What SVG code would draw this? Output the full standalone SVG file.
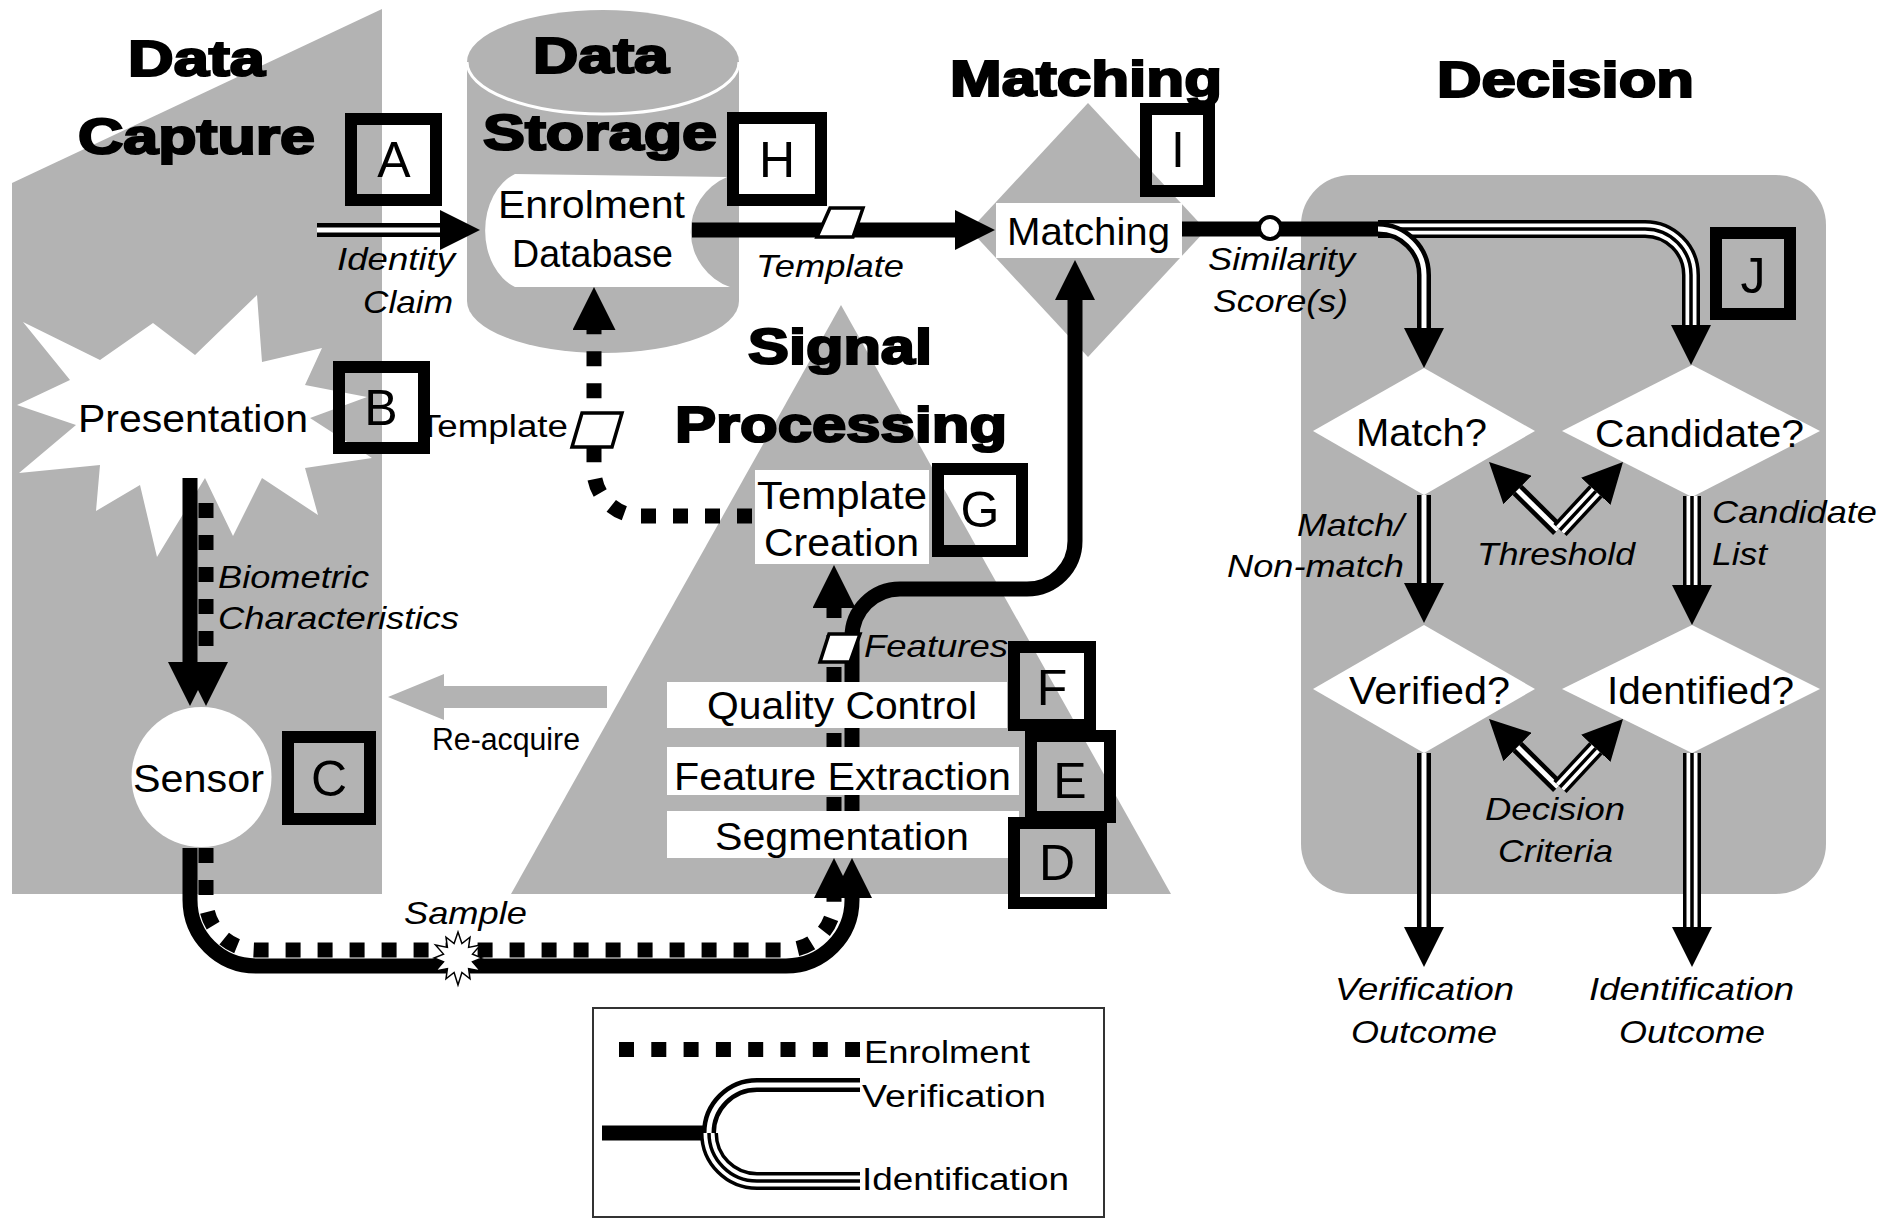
<svg xmlns="http://www.w3.org/2000/svg" width="1886" height="1218" viewBox="0 0 1886 1218">
<style>
.gr{fill:#b3b3b3}
.wh{fill:#fff}
text{font-family:"Liberation Sans",Arial,Helvetica,sans-serif;fill:#000}
.title{font-weight:bold;font-size:50px;stroke:#000;stroke-width:2.2}
.node{font-size:39px}
.lbl{font-style:italic;font-size:32px}
.sm{font-size:31px}
.let{font-size:50px;text-anchor:middle}
.box{fill:none;stroke:#000;stroke-width:12}
.thick{fill:none;stroke:#000;stroke-width:15}
.dot{fill:none;stroke:#000;stroke-width:15;stroke-dasharray:15 17}
.dblB{fill:none;stroke:#000;stroke-width:14}
.dblW{fill:none;stroke:#fff;stroke-width:5}
.triB{fill:none;stroke:#000;stroke-width:18}
.triW{fill:none;stroke:#fff;stroke-width:11}
.triC{fill:none;stroke:#000;stroke-width:3.5}
.tok{fill:#fff;stroke:#000;stroke-width:3.5}
</style>
<defs>
<marker id="ah" viewBox="0 0 40 40" markerWidth="40" markerHeight="40" refX="0" refY="20" orient="auto" markerUnits="userSpaceOnUse"><path d="M0,0 L40,20 L0,40 z"/></marker>
<marker id="ah44" viewBox="0 0 44 44" markerWidth="44" markerHeight="44" refX="0" refY="22" orient="auto" markerUnits="userSpaceOnUse"><path d="M0,0 L44,22 L0,44 z"/></marker>
<marker id="ah43" viewBox="0 0 43 43" markerWidth="43" markerHeight="43" refX="0" refY="21.5" orient="auto" markerUnits="userSpaceOnUse"><path d="M0,0 L43,21.5 L0,43 z"/></marker>
</defs>
<rect width="1886" height="1218" fill="#fff"/>

<g id="regions">
<polygon class="gr" points="12,183 382,9 382,894 12,894"/>
<path class="gr" d="M467,62 A136,52 0 0 1 739,62 V301 A136,52 0 0 1 467,301 Z"/>
<path d="M467,62 A136,52 0 0 0 739,62" fill="none" stroke="#fff" stroke-width="3"/>
<polygon class="gr" points="841,305 1171,894 511,894"/>
<polygon class="gr" points="1088,103 1206,230 1088,357 970,230"/>
<rect class="gr" x="1301" y="175" width="525" height="719" rx="50"/>
<text class="title" x="128" y="76" textLength="137" lengthAdjust="spacingAndGlyphs">Data</text>
<text class="title" x="78" y="154" textLength="237" lengthAdjust="spacingAndGlyphs">Capture</text>
<text class="title" x="533" y="73" textLength="136" lengthAdjust="spacingAndGlyphs">Data</text>
<text class="title" x="483" y="150" textLength="234" lengthAdjust="spacingAndGlyphs">Storage</text>
<text class="title" x="950" y="96" textLength="272" lengthAdjust="spacingAndGlyphs">Matching</text>
<text class="title" x="1437" y="97" textLength="257" lengthAdjust="spacingAndGlyphs">Decision</text>
<text class="title" x="748" y="364" textLength="184" lengthAdjust="spacingAndGlyphs">Signal</text>
<text class="title" x="675" y="442" textLength="332" lengthAdjust="spacingAndGlyphs">Processing</text>
</g>

<g id="node-presentation">
<polygon class="wh" points="23,322 100,360 153,323 195,355 257,295 262,362 322,348 305,385 367,397 310,418 372,458 305,468 318,515 262,478 233,536 205,478 157,557 140,485 96,511 100,465 19,473 76,425 17,405 70,380"/>
<text class="node" x="78" y="432" textLength="230" lengthAdjust="spacingAndGlyphs">Presentation</text>
</g>
<g id="node-enrolment-db">
<path class="wh" d="M515,174 L727,177 A59,59 0 0 0 730,287 L515,287 A45,60 0 0 1 515,174 Z"/>
<text class="node" x="498" y="218" textLength="187" lengthAdjust="spacingAndGlyphs">Enrolment</text>
<text class="node" x="512" y="267" textLength="161" lengthAdjust="spacingAndGlyphs">Database</text>
</g>
<g id="node-matching">
<rect class="wh" x="996" y="203" width="186" height="55"/>
<text class="node" x="1007" y="245" textLength="163" lengthAdjust="spacingAndGlyphs">Matching</text>
</g>
<g id="node-template-creation">
<rect class="wh" x="755" y="470" width="174" height="94"/>
<text class="node" x="757" y="509" textLength="170" lengthAdjust="spacingAndGlyphs">Template</text>
<text class="node" x="764" y="556" textLength="155" lengthAdjust="spacingAndGlyphs">Creation</text>
</g>
<g id="node-sensor">
<circle class="wh" cx="201.5" cy="777" r="70"/>
<text class="node" x="133" y="792" textLength="131" lengthAdjust="spacingAndGlyphs">Sensor</text>
</g>
<g id="node-match">
<polygon class="wh" points="1424,368 1535,431 1424,495 1313,431"/>
<text class="node" x="1356" y="446" textLength="131" lengthAdjust="spacingAndGlyphs">Match?</text>
</g>
<g id="node-candidate">
<polygon class="wh" points="1692,365 1820,431 1692,497 1562,431"/>
<text class="node" x="1595" y="447" textLength="209" lengthAdjust="spacingAndGlyphs">Candidate?</text>
</g>
<g id="node-verified">
<polygon class="wh" points="1424,625 1535,689 1424,753 1313,689"/>
<text class="node" x="1349" y="704" textLength="161" lengthAdjust="spacingAndGlyphs">Verified?</text>
</g>
<g id="node-identified">
<polygon class="wh" points="1692,625 1820,689 1692,753 1562,689"/>
<text class="node" x="1607" y="704" textLength="187" lengthAdjust="spacingAndGlyphs">Identified?</text>
</g>

<g id="connectors">
<path class="dblB" d="M317,230 H440" marker-end="url(#ah)"/>
<path class="dblW" d="M317,230 H440"/>
<path class="thick" d="M692,230 H955" marker-end="url(#ah)"/>
<polygon class="tok" points="830,208 863,208 853,237 817,237"/>
<path class="thick" d="M1182,229 H1392"/>
<path class="triB" d="M1378,229 H1645 A46,46 0 0 1 1691,275 V325" marker-end="url(#ah)"/>
<path class="triW" d="M1378,229 H1645 A46,46 0 0 1 1691,275 V325"/>
<path class="triC" d="M1378,229 H1645 A46,46 0 0 1 1691,275 V325"/>
<path class="dblB" d="M1378,229 A46,46 0 0 1 1424,275 V328" marker-end="url(#ah)"/>
<path class="dblW" d="M1378,229 A46,46 0 0 1 1424,275 V328"/>
<circle cx="1270" cy="228" r="11" fill="#fff" stroke="#000" stroke-width="4"/>
<path class="dblB" d="M1424,495 V583" marker-end="url(#ah)"/>
<path class="dblW" d="M1424,495 V583"/>
<path class="triB" d="M1692,496 V585" marker-end="url(#ah)"/>
<path class="triW" d="M1692,496 V585"/>
<path class="triC" d="M1692,496 V585"/>
<path class="dblB" d="M1424,753 V927" marker-end="url(#ah)"/>
<path class="dblW" d="M1424,753 V927"/>
<path class="triB" d="M1692,753 V927" marker-end="url(#ah)"/>
<path class="triW" d="M1692,753 V927"/>
<path class="triC" d="M1692,753 V927"/>
<path class="dblB" d="M1558,530 L1517.5,490" marker-end="url(#ah)"/>
<path class="dblW" d="M1558,530 L1517.5,490"/>
<path class="triB" d="M1560,530 L1595.8,491.4" marker-end="url(#ah)"/>
<path class="triW" d="M1560,530 L1595.8,491.4"/>
<path class="triC" d="M1560,530 L1595.8,491.4"/>
<path class="dblB" d="M1558,787 L1517.5,747" marker-end="url(#ah)"/>
<path class="dblW" d="M1558,787 L1517.5,747"/>
<path class="triB" d="M1560,787 L1595.8,748.4" marker-end="url(#ah)"/>
<path class="triW" d="M1560,787 L1595.8,748.4"/>
<path class="triC" d="M1560,787 L1595.8,748.4"/>
<path class="thick" d="M190,478 V662" marker-end="url(#ah44)"/>
<path class="dot" d="M206,503 V662" marker-end="url(#ah44)"/>
<path class="thick" d="M190,848 V900 A66,66 0 0 0 256,966 H786 A66,66 0 0 0 852,900 V898" marker-end="url(#ah)"/>
<path class="dot" d="M206,848 V900 A50,50 0 0 0 256,950 H786 A48,48 0 0 0 834,902 V898" marker-end="url(#ah)"/>
<polygon points="458,932 461.9,943.5 470,937.2 468.6,947.4 480.5,945 472.5,954.1 482,958 472.5,961.9 480.5,971 468.6,968.6 470,978.8 461.9,972.5 458,985 454.1,972.5 446,978.8 447.4,968.6 435.5,971 443.5,961.9 434,958 443.5,954.1 435.5,945 447.4,947.4 446,937.2 454.1,943.5" fill="#fff" stroke="#000" stroke-width="1.5"/>
<path class="thick" d="M852,858 V682"/>
<path class="dot" d="M834,858 V682" stroke-dashoffset="18"/>
<path class="thick" d="M852,682 V637 A48,48 0 0 1 900,589 H1027 A48,48 0 0 0 1075,541 V300" marker-end="url(#ah)"/>
<path class="dot" d="M834,682 V608" marker-end="url(#ah43)"/>
<polygon class="tok" points="829,634 860,634 850,662 820,662"/>
<path class="dot" d="M752,516 H640 A46,46 0 0 1 594,470 V330" marker-end="url(#ah43)"/>
<polygon class="tok" points="582,413 622,413 612,447 572,447"/>
<polygon class="gr" points="607,686 444,686 444,674 388,697 444,720 444,708 607,708"/>
<text class="lbl" x="337" y="270" textLength="118" lengthAdjust="spacingAndGlyphs">Identity</text>
<text class="lbl" x="363" y="313" textLength="90" lengthAdjust="spacingAndGlyphs">Claim</text>
<text class="lbl" x="756" y="277" textLength="148" lengthAdjust="spacingAndGlyphs">Template</text>
<text class="lbl" x="1208" y="270" textLength="147" lengthAdjust="spacingAndGlyphs">Similarity</text>
<text class="lbl" x="1213" y="312" textLength="135" lengthAdjust="spacingAndGlyphs">Score(s)</text>
<text class="lbl" x="218" y="588" textLength="151" lengthAdjust="spacingAndGlyphs">Biometric</text>
<text class="lbl" x="218" y="629" textLength="241" lengthAdjust="spacingAndGlyphs">Characteristics</text>
<text class="lbl" x="404" y="924" textLength="123" lengthAdjust="spacingAndGlyphs">Sample</text>
<text class="lbl" x="864" y="657" textLength="144" lengthAdjust="spacingAndGlyphs">Features</text>
<text class="lbl" x="1297" y="536" textLength="107" lengthAdjust="spacingAndGlyphs">Match/</text>
<text class="lbl" x="1227" y="577" textLength="177" lengthAdjust="spacingAndGlyphs">Non-match</text>
<text class="lbl" x="1477" y="565" textLength="158" lengthAdjust="spacingAndGlyphs">Threshold</text>
<text class="lbl" x="1712" y="523" textLength="165" lengthAdjust="spacingAndGlyphs">Candidate</text>
<text class="lbl" x="1712" y="565" textLength="55" lengthAdjust="spacingAndGlyphs">List</text>
<text class="lbl" x="1485" y="820" textLength="140" lengthAdjust="spacingAndGlyphs">Decision</text>
<text class="lbl" x="1498" y="862" textLength="115" lengthAdjust="spacingAndGlyphs">Criteria</text>
<text class="lbl" x="1335" y="1000" textLength="179" lengthAdjust="spacingAndGlyphs">Verification</text>
<text class="lbl" x="1351" y="1043" textLength="146" lengthAdjust="spacingAndGlyphs">Outcome</text>
<text class="lbl" x="1589" y="1000" textLength="205" lengthAdjust="spacingAndGlyphs">Identification</text>
<text class="lbl" x="1619" y="1043" textLength="146" lengthAdjust="spacingAndGlyphs">Outcome</text>
<text class="sm" x="419" y="437" textLength="149" lengthAdjust="spacingAndGlyphs">Template</text>
<text class="sm" x="432" y="750" textLength="148" lengthAdjust="spacingAndGlyphs">Re-acquire</text>
</g>

<g id="node-quality-control">
<rect class="wh" x="667" y="682" width="340" height="46"/>
<text class="node" x="707" y="719" textLength="270" lengthAdjust="spacingAndGlyphs">Quality Control</text>
</g>
<g id="node-feature-extraction">
<rect class="wh" x="667" y="747" width="352" height="48"/>
<text class="node" x="674" y="790" textLength="337" lengthAdjust="spacingAndGlyphs">Feature Extraction</text>
</g>
<g id="node-segmentation">
<rect class="wh" x="667" y="811" width="352" height="47"/>
<text class="node" x="715" y="850" textLength="254" lengthAdjust="spacingAndGlyphs">Segmentation</text>
</g>

<g id="label-A"><rect class="box" x="351" y="119" width="85" height="81"/><text class="let" x="394" y="177">A</text></g>
<g id="label-B"><rect class="box" x="339" y="367" width="85" height="81"/><text class="let" x="381" y="425">B</text></g>
<g id="label-C"><rect class="box" x="288" y="737" width="82" height="82"/><text class="let" x="329" y="796">C</text></g>
<g id="label-D"><rect class="box" x="1014" y="823" width="87" height="80"/><text class="let" x="1057" y="880">D</text></g>
<g id="label-E"><rect class="box" x="1031" y="736" width="79" height="81"/><text class="let" x="1070" y="798">E</text></g>
<g id="label-F"><rect class="box" x="1014" y="647" width="76" height="78"/><text class="let" x="1052" y="705">F</text></g>
<g id="label-G"><rect class="box" x="938" y="469" width="84" height="82"/><text class="let" x="980" y="527">G</text></g>
<g id="label-H"><rect class="box" x="733" y="118" width="88" height="82"/><text class="let" x="777" y="177">H</text></g>
<g id="label-I"><rect class="box" x="1146" y="109" width="63" height="82"/><text class="let" x="1178" y="167">I</text></g>
<g id="label-J"><rect class="box" x="1716" y="233" width="74" height="81"/><text class="let" x="1753" y="293">J</text></g>

<g id="legend">
<rect x="593" y="1008" width="511" height="209" fill="#fff" stroke="#333" stroke-width="2"/>
<path class="dot" d="M619,1049.5 H860" style="stroke-dasharray:15 17.3"/>
<path class="thick" d="M602,1133 H712"/>
<path class="triB" d="M709,1133 A48,48 0 0 0 757,1181 H860"/>
<path class="triW" d="M709,1133 A48,48 0 0 0 757,1181 H860"/>
<path class="triC" d="M709,1133 A48,48 0 0 0 757,1181 H860"/>
<path class="dblB" d="M709,1133 A48,48 0 0 1 757,1085 H860"/>
<path class="dblW" d="M709,1133 A48,48 0 0 1 757,1085 H860"/>
<text class="sm" x="864" y="1063" textLength="166" lengthAdjust="spacingAndGlyphs">Enrolment</text>
<text class="sm" x="862" y="1107" textLength="184" lengthAdjust="spacingAndGlyphs">Verification</text>
<text class="sm" x="862" y="1190" textLength="207" lengthAdjust="spacingAndGlyphs">Identification</text>
</g>
</svg>
